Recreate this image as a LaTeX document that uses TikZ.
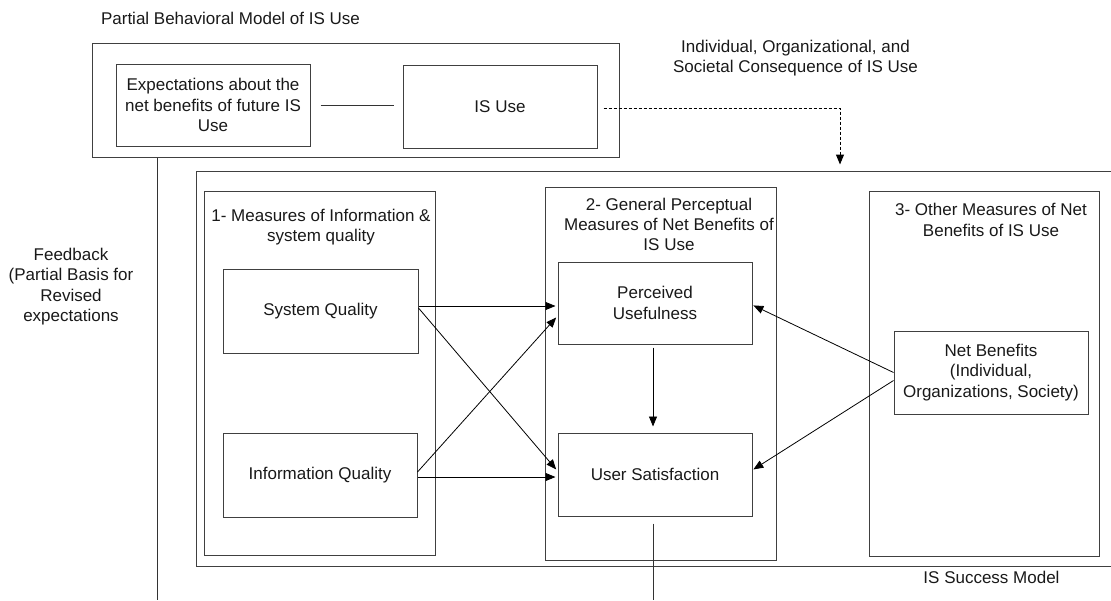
\documentclass[tikz,border=0pt]{standalone}
\usepackage{fontspec}
\setmainfont{Liberation Sans}
\usetikzlibrary{arrows.meta,calc}
\newcommand{\dgfont}{\fontsize{17}{20.3}\selectfont}
\begin{document}
\begin{tikzpicture}[x=1pt,y=-1pt,
  box/.style={draw=black!75, line width=1pt, inner sep=0pt, align=center, font=\dgfont, text=black!90},
  lbl/.style={inner sep=0pt, align=center, font=\dgfont, text=black!90},
  arr/.style={draw=black, line width=0.8pt, -{Triangle[length=10pt,width=8pt]}},
  ln/.style={draw=black!80, line width=1pt},
  dashln/.style={draw=black, line width=1pt, dash pattern=on 3pt off 2pt, -{Triangle[length=10pt,width=8pt]}},
]
\useasboundingbox (0,0) rectangle (1111,600);
\clip (0,0) rectangle (1111,600);

% top partial behavioral model
\node[lbl] (title) at (230.5,18) {Partial Behavioral Model of IS Use};
\node[box, minimum width=527, minimum height=114] (topbox) at (355.5,100) {};
\node[box, minimum width=194, minimum height=82] (exp) at (213,105) {Expectations about the\\net benefits of future IS\\Use};
\node[box, minimum width=194, minimum height=83] (isuse) at (500,106.5) {IS Use};
\node[lbl] (cons) at (795.5,58) {Individual, Organizational, and\\Societal Consequence of IS Use};
\node[lbl] (fb) at (71,286.5) {Feedback\\(Partial Basis for\\Revised\\expectations};

% IS success model
\node[box, minimum width=919, minimum height=395] (success) at (655.5,368.5) {};
\node[box, minimum width=231, minimum height=364] (box1) at (319.5,373) {};
\node[box, minimum width=231, minimum height=373] (box2) at (660.5,373.5) {};
\node[box, minimum width=230, minimum height=365] (box3) at (984,373.5) {};
\node[lbl] (lab1) at (321,227) {1- Measures of Information \&\\system quality};
\node[lbl] (lab2) at (669,224.5) {2- General Perceptual\\Measures of Net Benefits of\\IS Use};
\node[lbl] (lab3) at (991,220) {3- Other Measures of Net\\Benefits of IS Use};

\node[box, minimum width=195, minimum height=84] (sq) at (320.5,311) {System Quality};
\node[box, minimum width=194, minimum height=84] (iq) at (320,475) {Information Quality};
\node[box, minimum width=194, minimum height=82] (pu) at (655,303) {Perceived\\Usefulness};
\node[box, minimum width=194, minimum height=83] (us) at (655,474.5) {User Satisfaction};
\node[box, minimum width=194, minimum height=83] (nb) at (991,372.5) {Net Benefits\\(Individual,\\Organizations, Society)};
\node[lbl] (ism) at (991.5,577) {IS Success Model};

% connectors
\draw[ln] ([xshift=10pt]exp.east) -- ([xshift=-9pt]exp.east -| isuse.west);
\coordinate (dx) at (840,108);
\draw[dashln] ([xshift=6pt,yshift=-1.5pt]isuse.east) -| ([yshift=6pt]dx |- success.north);

\coordinate (fbend) at (157,600);
\draw[ln] (topbox.south -| fbend) -- (fbend);
\coordinate (usend) at (653,600);
\draw[ln] ([yshift=-7pt]us.south -| usend) -- (usend);

\draw[arr, shorten >=2pt] ([yshift=5pt]sq.east) -- ([yshift=5pt]sq.east -| pu.west);
\draw[arr, shorten >=2pt] ([yshift=3pt]sq.east) -- ([yshift=3.5pt]us.west);
\draw[arr, shorten >=2pt] ([yshift=3pt]iq.east) -- ([yshift=-13pt]pu.west);
\draw[arr, shorten >=2pt] ([yshift=-2pt]iq.east) -- ([yshift=-2pt]iq.east -| us.west);
\draw[arr, shorten <=3pt, shorten >=6pt] (pu.south -| usend) -- (us.north -| usend);
\draw[arr, shorten >=1pt] (nb.west) -- ([yshift=-2pt]pu.east);
\draw[arr, shorten >=1pt] ([yshift=-8pt]nb.west) -- ([yshift=4.5pt]us.east);
\end{tikzpicture}
\end{document}
